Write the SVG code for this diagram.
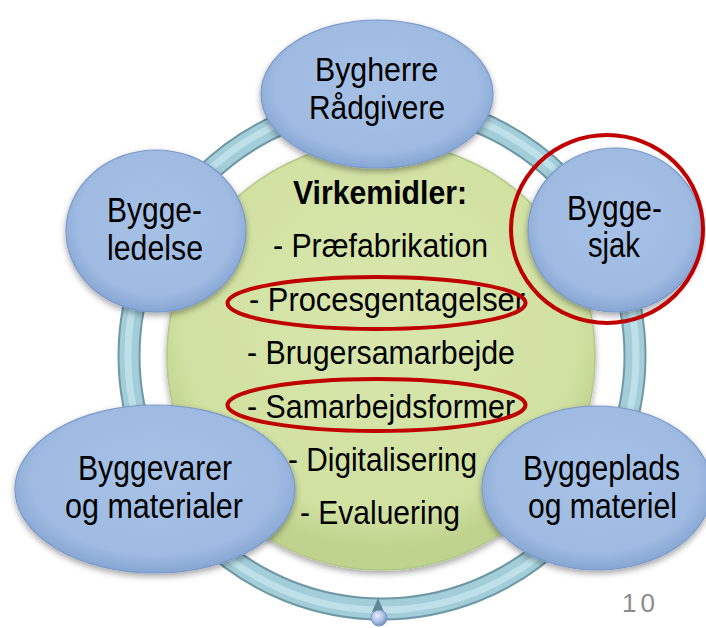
<svg xmlns="http://www.w3.org/2000/svg" width="706" height="628" viewBox="0 0 706 628">
<defs>
<radialGradient id="gBlue" cx="50%" cy="45%" r="55%">
<stop offset="0" stop-color="#a7c1e6"/>
<stop offset="0.8" stop-color="#9fbbe2"/>
<stop offset="1" stop-color="#86a6d3"/>
</radialGradient>
<radialGradient id="gGreen" cx="50%" cy="40%" r="55%">
<stop offset="0" stop-color="#d8e6ad"/>
<stop offset="0.85" stop-color="#d1e1a1"/>
<stop offset="1" stop-color="#bfd38e"/>
</radialGradient>
<radialGradient id="gBall" cx="40%" cy="35%" r="65%">
<stop offset="0" stop-color="#e6eefa"/>
<stop offset="0.6" stop-color="#a9c0e4"/>
<stop offset="1" stop-color="#7290c0"/>
</radialGradient>
<filter id="sh" x="-20%" y="-20%" width="140%" height="150%">
<feDropShadow dx="0" dy="3" stdDeviation="3" flood-color="#000" flood-opacity="0.35"/>
</filter>
</defs>
<style>
.node{fill:url(#gBlue);stroke:#7c9acb;stroke-width:1.2;filter:url(#sh)}
.t{font-family:"Liberation Sans",Arial,sans-serif;fill:#000}
.nt{font-size:35px}
.ct{font-size:34px}
.hl{fill:none;stroke:#c00000;stroke-width:4}
</style>
<rect width="706" height="628" fill="#fff"/>
<g id="connectors">
<circle cx="382" cy="356" r="253" fill="none" stroke="#6f98a6" stroke-width="23"/>
<circle cx="382" cy="356" r="253" fill="none" stroke="#a3cdd9" stroke-width="19"/>
<circle cx="382" cy="356" r="254" fill="none" stroke="#bde0e9" stroke-width="7"/>
<path d="M372,612 L378,598 L384,612 Z" fill="#5f8794"/>
<circle cx="379" cy="618" r="8" fill="url(#gBall)" stroke="#6f8ebd" stroke-width="0.8"/>
</g>
<g id="virkemidler">
<circle cx="381" cy="356" r="214" fill="url(#gGreen)" stroke="#b4c989" stroke-width="1.5" filter="url(#sh)"/>
<text class="t ct" x="293" y="204" font-weight="bold" textLength="174" lengthAdjust="spacingAndGlyphs">Virkemidler:</text>
<text class="t ct" x="273" y="257" textLength="215" lengthAdjust="spacingAndGlyphs">- Præfabrikation</text>
<text class="t ct" x="249" y="311" textLength="276" lengthAdjust="spacingAndGlyphs">- Procesgentagelser</text>
<text class="t ct" x="247" y="364" textLength="268" lengthAdjust="spacingAndGlyphs">- Brugersamarbejde</text>
<text class="t ct" x="247" y="418" textLength="268" lengthAdjust="spacingAndGlyphs">- Samarbejdsformer</text>
<text class="t ct" x="288" y="471" textLength="189" lengthAdjust="spacingAndGlyphs">- Digitalisering</text>
<text class="t ct" x="300" y="524" textLength="160" lengthAdjust="spacingAndGlyphs">- Evaluering</text>
</g>
<g id="bygherre">
<ellipse class="node" cx="377" cy="94" rx="116" ry="74"/>
<text class="t" font-size="33" x="315" y="81" textLength="123" lengthAdjust="spacingAndGlyphs">Bygherre</text>
<text class="t" font-size="33" x="309" y="119" textLength="136" lengthAdjust="spacingAndGlyphs">Rådgivere</text>
</g>
<g id="byggeledelse">
<ellipse class="node" cx="156" cy="231" rx="90" ry="81"/>
<text class="t nt" x="107" y="222" textLength="95" lengthAdjust="spacingAndGlyphs">Bygge-</text>
<text class="t nt" x="107" y="260" textLength="96" lengthAdjust="spacingAndGlyphs">ledelse</text>
</g>
<g id="byggesjak">
<ellipse class="node" cx="615" cy="230" rx="87" ry="82"/>
<text class="t nt" x="567" y="220" textLength="95" lengthAdjust="spacingAndGlyphs">Bygge-</text>
<text class="t nt" x="588" y="257" textLength="52" lengthAdjust="spacingAndGlyphs">sjak</text>
</g>
<g id="byggevarer">
<ellipse class="node" cx="155" cy="489" rx="140" ry="84"/>
<text class="t nt" x="78" y="480" textLength="154" lengthAdjust="spacingAndGlyphs">Byggevarer</text>
<text class="t nt" x="65" y="518" textLength="178" lengthAdjust="spacingAndGlyphs">og materialer</text>
</g>
<g id="byggeplads">
<ellipse class="node" cx="597" cy="488" rx="115" ry="82"/>
<text class="t nt" x="523" y="480" textLength="157" lengthAdjust="spacingAndGlyphs">Byggeplads</text>
<text class="t nt" x="528" y="518" textLength="149" lengthAdjust="spacingAndGlyphs">og materiel</text>
</g>
<g id="highlights">
<ellipse class="hl" cx="376.5" cy="303" rx="149" ry="26"/>
<ellipse class="hl" cx="376.5" cy="405" rx="149" ry="26"/>
<ellipse class="hl" cx="607" cy="229" rx="96" ry="94"/>
</g>
<text class="t" x="622" y="612" font-size="26" style="fill:#8c8c8c" letter-spacing="4">10</text>
</svg>
